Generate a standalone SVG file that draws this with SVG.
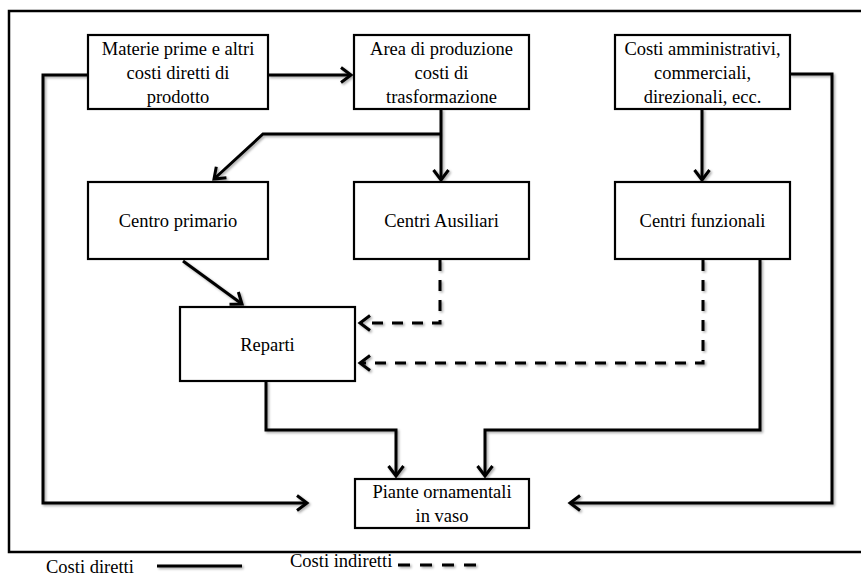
<svg xmlns="http://www.w3.org/2000/svg" width="861" height="577" viewBox="0 0 861 577">
<style>
.box{fill:#fff;stroke:#000;stroke-width:2.2}
.t{font-family:"Liberation Serif","Times New Roman",serif;font-size:18.5px;fill:#000;text-anchor:middle}
.lg{font-family:"Liberation Serif","Times New Roman",serif;font-size:18.5px;fill:#000}
.c{fill:none;stroke:#000;stroke-width:3;stroke-linejoin:miter}
.d{stroke-dasharray:11 9}
</style>
<defs>
<filter id="sh" filterUnits="userSpaceOnUse" x="0" y="0" width="861" height="577">
<feDropShadow dx="1.5" dy="1.5" stdDeviation="1" flood-color="#000" flood-opacity="0.35"/>
</filter>
<marker id="ah" markerUnits="userSpaceOnUse" markerWidth="20" markerHeight="20" viewBox="-12 -10 14 20" refX="0" refY="0" orient="auto" overflow="visible">
<path d="M-10,-7.5 L0,0 L-10,7.5" fill="none" stroke="#000" stroke-width="3" stroke-linejoin="miter"/>
</marker>
</defs>
<rect x="0" y="0" width="861" height="577" fill="#fff"/>
<rect id="frame" x="9" y="11" width="870" height="541" fill="none" stroke="#000" stroke-width="2.5"/>

<g id="connectors" filter="url(#sh)">
<path class="c" d="M268,75 H351" marker-end="url(#ah)"/>
<path class="c" d="M88,75 H43 V503 H307" marker-end="url(#ah)"/>
<path class="c" d="M441,109 V180" marker-end="url(#ah)"/>
<path class="c" d="M441,134 H263 L214,179" marker-end="url(#ah)"/>
<path class="c" d="M702,109 V180" marker-end="url(#ah)"/>
<path class="c" d="M790,74 H832 V503 H570" marker-end="url(#ah)"/>
<path class="c" d="M183,261 L242,304" marker-end="url(#ah)"/>
<path class="c d" d="M440,260 V323 H360" marker-end="url(#ah)"/>
<path class="c d" d="M703,260 V363 H360" marker-end="url(#ah)"/>
<path class="c" d="M266,381 V430 H396 V476" marker-end="url(#ah)"/>
<path class="c" d="M760,259 V430 H485 V476" marker-end="url(#ah)"/>
</g>

<g id="n-materie">
<rect class="box" x="88" y="35" width="180" height="74"/>
<text class="t" x="178" y="55">Materie prime e altri</text>
<text class="t" x="178" y="79">costi diretti di</text>
<text class="t" x="178" y="103">prodotto</text>
</g>
<g id="n-area">
<rect class="box" x="354" y="35" width="175" height="74"/>
<text class="t" x="441.5" y="55">Area di produzione</text>
<text class="t" x="441.5" y="79">costi di</text>
<text class="t" x="441.5" y="103">trasformazione</text>
</g>
<g id="n-costi">
<rect class="box" x="615" y="35" width="175" height="74"/>
<text class="t" x="702.5" y="55">Costi amministrativi,</text>
<text class="t" x="702.5" y="79">commerciali,</text>
<text class="t" x="702.5" y="103">direzionali, ecc.</text>
</g>
<g id="n-primario">
<rect class="box" x="88" y="182" width="180" height="77"/>
<text class="t" x="178" y="227">Centro primario</text>
</g>
<g id="n-ausiliari">
<rect class="box" x="354" y="182" width="175" height="77"/>
<text class="t" x="441.5" y="227">Centri Ausiliari</text>
</g>
<g id="n-funzionali">
<rect class="box" x="615" y="182" width="175" height="77"/>
<text class="t" x="702.5" y="227">Centri funzionali</text>
</g>
<g id="n-reparti">
<rect class="box" x="180" y="307" width="175" height="74"/>
<text class="t" x="267.5" y="351">Reparti</text>
</g>
<g id="n-piante">
<rect class="box" x="355" y="479" width="174" height="49"/>
<text class="t" x="442" y="498">Piante ornamentali</text>
<text class="t" x="442" y="522">in vaso</text>
</g>

<g id="legend">
<text class="lg" x="46" y="573">Costi diretti</text>
<path d="M157,566 H242" fill="none" stroke="#000" stroke-width="3" filter="url(#sh)"/>
<text class="lg" x="290" y="567">Costi indiretti</text>
<path d="M398,565 H482" fill="none" stroke="#000" stroke-width="3" stroke-dasharray="12 10" filter="url(#sh)"/>
</g>
</svg>
